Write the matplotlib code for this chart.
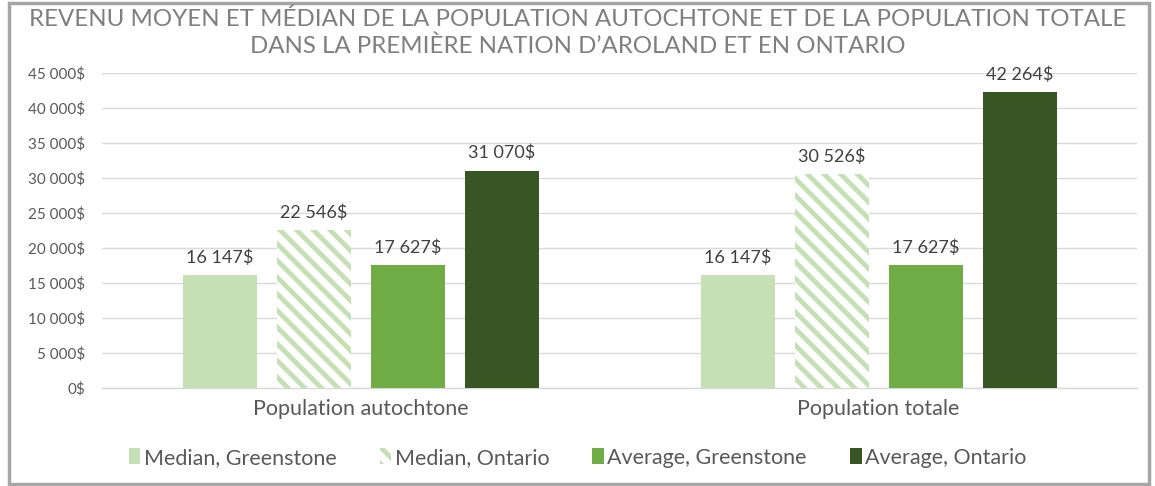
import numpy as np
import matplotlib
matplotlib.use("Agg")
from matplotlib import pyplot as plt
from matplotlib.patches import Rectangle

# data
categories = ["Population autochtone", "Population totale"]
series_names = ["Median, Greenstone", "Median, Ontario", "Average, Greenstone", "Average, Ontario"]
median_greenstone = [16147, 16147]
median_ontario = [22546, 30526]
average_greenstone = [17627, 17627]
average_ontario = [31070, 42264]
yticks = [0, 5000, 10000, 15000, 20000, 25000, 30000, 35000, 40000, 45000]

title = ("REVENU MOYEN ET MÉDIAN DE LA POPULATION AUTOCHTONE ET DE LA POPULATION TOTALE\n"
         "DANS LA PREMIÈRE NATION D\u2019AROLAND ET EN ONTARIO")

def fmt(v):
    return "{:,}".format(int(v)).replace(",", " ") + "$"

plt.rcParams["font.family"] = ["Lato", "DejaVu Sans"]
plt.rcParams["hatch.linewidth"] = 3.5
plt.rcParams["hatch.color"] = "#c5e0b4"
text_col = "#595959"

fig = plt.figure(figsize=(11.55, 4.86), dpi=100)
ax = fig.add_axes([0.0883, 0.2016, 0.8965, 0.6482])

colors = ["#c5e0b4", "white", "#70ad47", "#375623"]
hatches = [None, "\\\\", None, None]
values = [median_greenstone, median_ontario, average_greenstone, average_ontario]
x = np.arange(len(categories))
width = 0.143
step = 0.1815
offsets = (np.arange(4) - 1.5) * step

for i, (vals, c, h, name) in enumerate(zip(values, colors, hatches, series_names)):
    bars = ax.bar(x + offsets[i], vals, width, color=c, hatch=h, label=name,
                  edgecolor=("#c5e0b4" if h else c), linewidth=0, zorder=3)
    for b, v in zip(bars, vals):
        ax.text(b.get_x() + b.get_width() / 2, v + 1300, fmt(v), ha="center", va="bottom",
                fontsize=13, color="#404040")

ax.set_xlim(-0.5, 1.5)
ax.set_ylim(0, 45000)
ax.set_yticks(yticks)
ax.set_yticklabels([fmt(t) for t in yticks], fontsize=11, color=text_col)
ax.set_xticks(x)
ax.set_xticklabels(categories, fontsize=15.5, color=text_col)
ax.tick_params(axis="both", length=0)
ax.tick_params(axis="y", pad=12)
ax.tick_params(axis="x", pad=8)
ax.grid(axis="y", color="#d9d9d9", linewidth=1, zorder=0)
for s in ["top", "right", "left"]:
    ax.spines[s].set_visible(False)
ax.spines["bottom"].set_color("#d9d9d9")
ax.spines["bottom"].set_linewidth(1)

fig.text(0.5, 0.933, title, ha="center", va="center", fontsize=17.3, color="#7f7f7f",
         linespacing=1.3)

leg = fig.legend(loc="center", bbox_to_anchor=(0.5, 0.058), ncol=4, frameon=False,
                 prop={"size": 15.5}, handlelength=0.55,
                 handleheight=0.75, handletextpad=0.15, columnspacing=2.0)
for t in leg.get_texts():
    t.set_color(text_col)

fig.patches.append(Rectangle((0.008, 0.005), 0.987, 0.988, transform=fig.transFigure,
                             fill=False, edgecolor="#a6a6a6", linewidth=2.5))

plt.savefig("out.png", dpi=100)
